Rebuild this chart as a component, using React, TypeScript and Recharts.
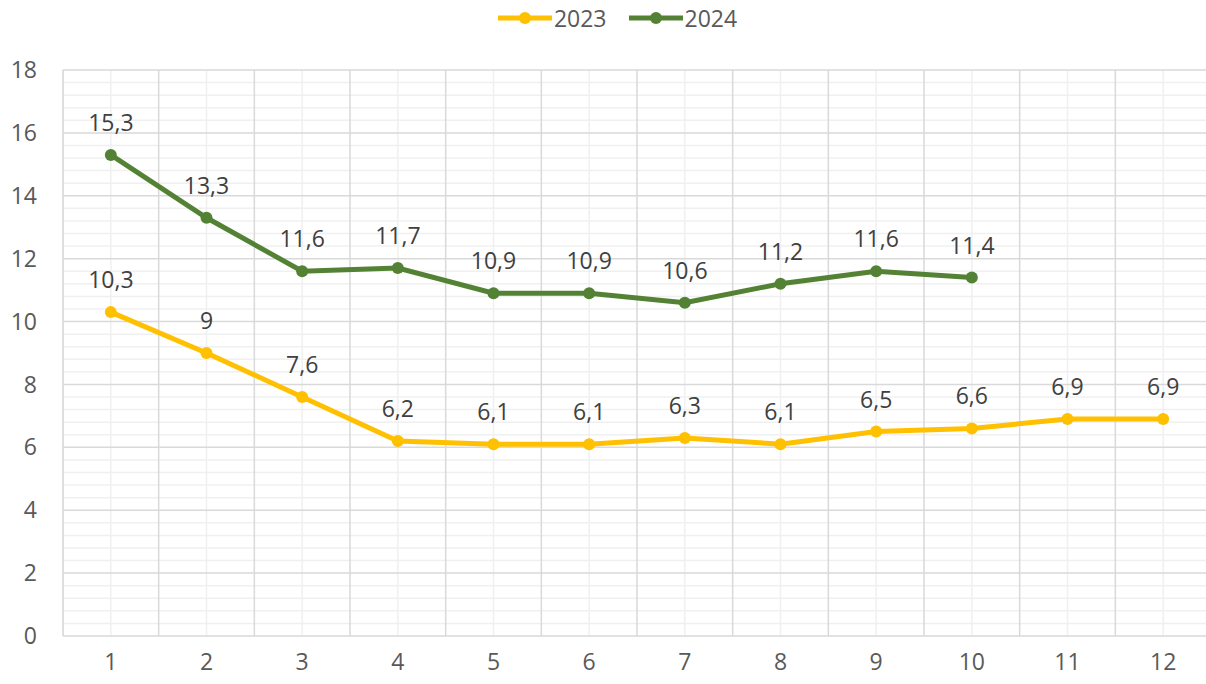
import React from 'react';
import { LineChart, Line, XAxis, YAxis, CartesianGrid, Legend, LabelList, ReferenceLine } from 'recharts';

const months = [1, 2, 3, 4, 5, 6, 7, 8, 9, 10, 11, 12];
const values2023 = [10.3, 9, 7.6, 6.2, 6.1, 6.1, 6.3, 6.1, 6.5, 6.6, 6.9, 6.9];
const values2024 = [15.3, 13.3, 11.6, 11.7, 10.9, 10.9, 10.6, 11.2, 11.6, 11.4, null, null];
const yTicks = [0, 2, 4, 6, 8, 10, 12, 14, 16, 18];

// gridline helpers (minor every 0.4, category boundaries on half steps)
const yMinorTicks = Array.from({ length: 46 }, (_, i) => Math.round(i * 4) / 10).filter((v) => v % 2 !== 0);
const xBoundaryTicks = Array.from({ length: 13 }, (_, i) => i + 0.5);

const data = months.map((m, i) => ({ month: m, y2023: values2023[i], y2024: values2024[i] }));

const COLOR_2023 = '#FFC000';
const COLOR_2024 = '#548235';
const MINOR_GRID = '#F0F0F0';
const MAJOR_GRID = '#D9D9D9';
const FONT = '"Open Sans", "Noto Sans", sans-serif';
const FONT_SIZE = 23;

const fmt = (v: any) => (v == null ? '' : String(v).replace('.', ','));

const LegendContent = () => {
  const items = [
    { name: '2023', color: COLOR_2023 },
    { name: '2024', color: COLOR_2024 },
  ];
  return (
    <div style={{ display: 'flex', justifyContent: 'center', height: 36, alignItems: 'center', paddingLeft: 24, boxSizing: 'border-box', fontFamily: FONT, fontSize: FONT_SIZE, color: '#595959' }}>
      {items.map((it) => (
        <div key={it.name} style={{ display: 'flex', alignItems: 'center', margin: '0 11px' }}>
          <svg width={54} height={14} style={{ marginRight: 2 }}>
            <line x1={0} y1={7} x2={54} y2={7} stroke={it.color} strokeWidth={5} />
            <circle cx={27} cy={7} r={6} fill={it.color} />
          </svg>
          <span>{it.name}</span>
        </div>
      ))}
    </div>
  );
};

export default function App() {
  return (
    <div style={{ width: 1206, height: 684, overflow: 'hidden', background: '#fff' }}>
      <style>{'html,body{margin:0;padding:0;overflow:hidden;}'}</style>
      <LineChart width={1230} height={684} data={data} margin={{ top: 34, right: 19, bottom: 0, left: 0 }}>
        <XAxis dataKey="month" type="number" domain={[0.5, 12.5]} ticks={months}
          axisLine={false} tickLine={false} tickSize={0} tickMargin={18} height={48} interval={0}
          tick={{ fill: '#595959', fontSize: FONT_SIZE, fontFamily: FONT }} />
        <YAxis domain={[0, 18]} ticks={yTicks} width={63} interval={0}
          axisLine={false} tickLine={false} tickSize={0} tickMargin={26}
          tick={{ fill: '#595959', fontSize: FONT_SIZE, fontFamily: FONT }} />
        {/* minor verticals at category centres */}
        <CartesianGrid horizontal={false} stroke={MINOR_GRID} strokeWidth={1.5} />
        {yMinorTicks.map((v) => (
          <ReferenceLine key={'my' + v} y={v} stroke={MINOR_GRID} strokeWidth={1.5} />
        ))}
        {/* major grid */}
        <CartesianGrid vertical={false} stroke={MAJOR_GRID} strokeWidth={1.5} />
        {xBoundaryTicks.map((v) => (
          <ReferenceLine key={'bx' + v} x={v} stroke={MAJOR_GRID} strokeWidth={1.5} />
        ))}
        <Legend verticalAlign="top" align="center" content={<LegendContent />} wrapperStyle={{ top: 0, left: 0, width: 1211 }} />
        <Line dataKey="y2023" name="2023" stroke={COLOR_2023} strokeWidth={5}
          dot={{ r: 6, fill: COLOR_2023, stroke: COLOR_2023, strokeWidth: 0 }} isAnimationActive={false}>
          <LabelList dataKey="y2023" position="top" offset={24} formatter={fmt}
            style={{ fill: '#404040', fontSize: FONT_SIZE, fontFamily: FONT }} />
        </Line>
        <Line dataKey="y2024" name="2024" stroke={COLOR_2024} strokeWidth={5}
          dot={{ r: 6, fill: COLOR_2024, stroke: COLOR_2024, strokeWidth: 0 }} isAnimationActive={false}>
          <LabelList dataKey="y2024" position="top" offset={24} formatter={fmt}
            style={{ fill: '#404040', fontSize: FONT_SIZE, fontFamily: FONT }} />
        </Line>
      </LineChart>
    </div>
  );
}
